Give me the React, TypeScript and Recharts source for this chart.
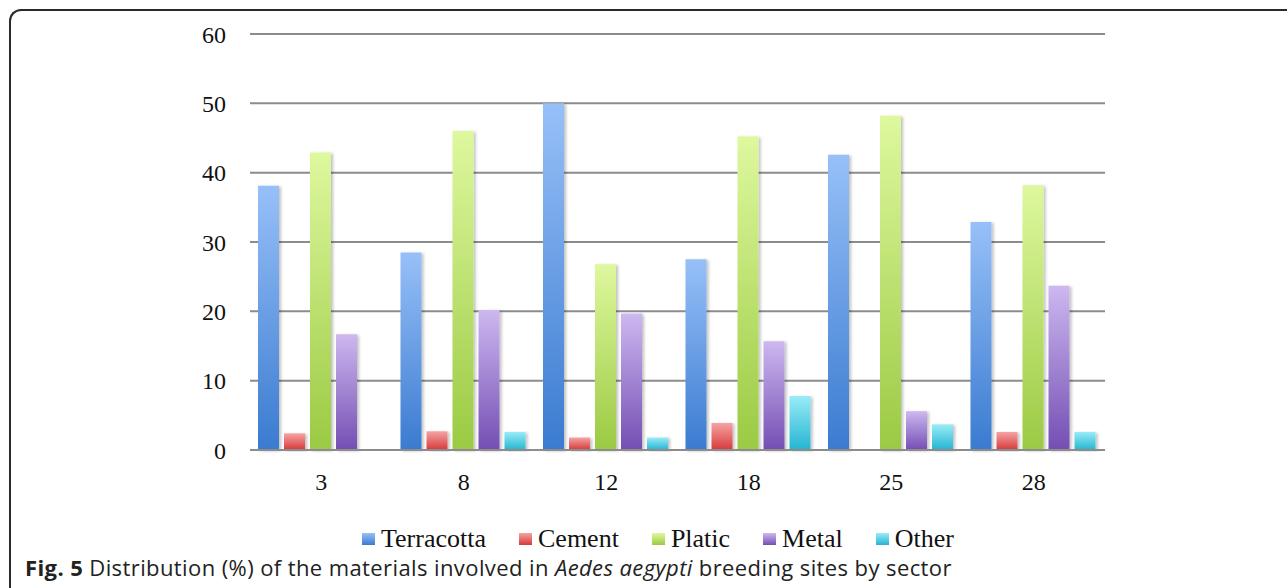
import React from 'react';
import { BarChart, Bar, XAxis, YAxis, CartesianGrid } from 'recharts';

const SECTORS = ['3', '8', '12', '18', '25', '28'];
const TERRACOTTA = [38.1, 28.5, 50.0, 27.5, 42.6, 32.9];
const CEMENT = [2.4, 2.7, 1.8, 3.9, 0, 2.6];
const PLATIC = [42.9, 46.0, 26.8, 45.2, 48.2, 38.2];
const METAL = [16.7, 20.2, 19.7, 15.7, 5.6, 23.7];
const OTHER = [0, 2.6, 1.8, 7.8, 3.7, 2.6];
const Y_TICKS = [0, 10, 20, 30, 40, 50, 60];

const SERIES = [
  { key: 'Terracotta', values: TERRACOTTA, top: '#97c0f8', bottom: '#3a7bd0' },
  { key: 'Cement', values: CEMENT, top: '#f6a3a3', bottom: '#d63a3a' },
  { key: 'Platic', values: PLATIC, top: '#def89e', bottom: '#9bca43' },
  { key: 'Metal', values: METAL, top: '#cdb8f0', bottom: '#744eb3' },
  { key: 'Other', values: OTHER, top: '#98ecf8', bottom: '#25b4d1' },
];

const data = SECTORS.map((s, i) => {
  const row: Record<string, string | number> = { sector: s };
  SERIES.forEach((ser) => {
    row[ser.key] = ser.values[i];
  });
  return row;
});

const serif = '"Liberation Serif", "Times New Roman", serif';

export default function App() {
  return (
    <div style={{ position: 'absolute', left: 0, top: 0, width: 1287, height: 588, background: '#fff', overflow: 'hidden' }}>
      {/* frame */}
      <div
        style={{
          position: 'absolute',
          left: 9,
          top: 9,
          width: 1300,
          height: 600,
          borderTop: '2px solid #2a2a2a',
          borderLeft: '2px solid #2a2a2a',
          borderTopLeftRadius: 12,
        }}
      />
      <div style={{ position: 'absolute', left: 0, top: 0 }}>
        <BarChart
          width={1287}
          height={588}
          data={data}
          margin={{ top: 34, right: 182, left: 0, bottom: 108 }}
          barCategoryGap={8}
          barGap={5}
        >
          <defs>
            {SERIES.map((s) => (
              <linearGradient key={s.key} id={`grad-${s.key}`} x1="0" y1="0" x2="0" y2="1">
                <stop offset="0%" stopColor={s.top} />
                <stop offset="100%" stopColor={s.bottom} />
              </linearGradient>
            ))}
            <filter id="barShadow" x="-20%" y="-5%" width="150%" height="115%">
              <feDropShadow dx="2" dy="1" stdDeviation="1.5" floodColor="#000" floodOpacity="0.25" />
            </filter>
          </defs>
          <CartesianGrid vertical={false} stroke="#8c8c8c" strokeWidth={2} />
          <XAxis
            dataKey="sector"
            height={30}
            tickSize={0}
            tickMargin={23}
            axisLine={{ stroke: '#8c8c8c', strokeWidth: 2 }}
            tick={{ fontSize: 24, fill: '#111', fontFamily: serif }}
          />
          <YAxis
            width={250}
            domain={[0, 60]}
            ticks={Y_TICKS}
            tickSize={0}
            tickMargin={24}
            axisLine={false}
            tick={{ fontSize: 24, fill: '#111', fontFamily: serif }}
          />
          {SERIES.map((s) => (
            <Bar
              key={s.key}
              dataKey={s.key}
              fill={`url(#grad-${s.key})`}
              filter="url(#barShadow)"
              isAnimationActive={false}
            />
          ))}
        </BarChart>
      </div>
      {/* legend */}
      <div
        style={{
          position: 'absolute',
          left: 362,
          top: 524,
          height: 30,
          display: 'flex',
          alignItems: 'center',
          fontFamily: serif,
          fontSize: 26,
          color: '#111',
          whiteSpace: 'nowrap',
        }}
      >
        {SERIES.map((s) => (
          <div key={s.key} style={{ display: 'flex', alignItems: 'center', marginRight: 33 }}>
            <span
              style={{
                display: 'inline-block',
                width: 13,
                height: 12,
                marginRight: 6,
                background: `linear-gradient(${s.top}, ${s.bottom})`,
              }}
            />
            <span>{s.key}</span>
          </div>
        ))}
      </div>
      {/* caption */}
      <div
        style={{
          position: 'absolute',
          left: 25,
          top: 552,
          fontFamily: '"Open Sans", sans-serif',
          fontSize: 22,
          letterSpacing: 0.4,
          color: '#222',
          whiteSpace: 'nowrap',
        }}
      >
        <b>Fig. 5</b> Distribution (%) of the materials involved in <i>Aedes aegypti</i> breeding sites by sector
      </div>
    </div>
  );
}
